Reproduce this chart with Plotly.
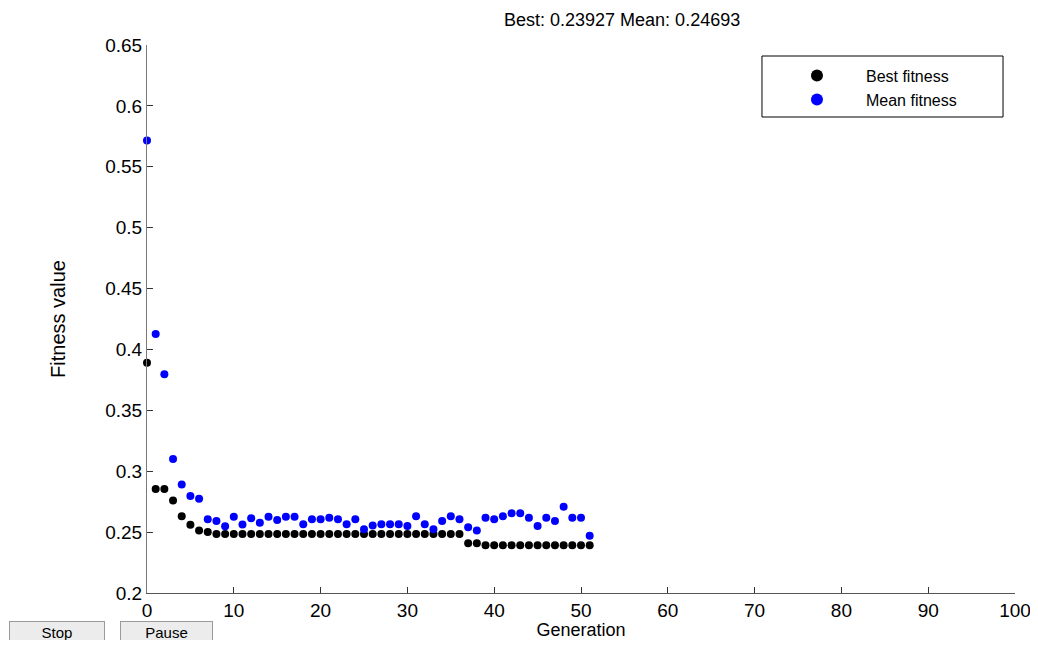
import plotly.graph_objects as go

generations = list(range(52))
best_fitness = [0.389, 0.2855, 0.2855, 0.276, 0.263, 0.256, 0.2513, 0.250,
                0.2485, 0.2485, 0.2485, 0.2485, 0.2485, 0.2485, 0.2485, 0.2485,
                0.2485, 0.2485, 0.2485, 0.2485, 0.2485, 0.2485, 0.2485, 0.2485,
                0.2485, 0.2485, 0.2485, 0.2485, 0.2485, 0.2485, 0.2485, 0.2485,
                0.2485, 0.2485, 0.2485, 0.2485, 0.2485,
                0.2409, 0.2409,
                0.23927, 0.23927, 0.23927, 0.23927, 0.23927, 0.23927, 0.23927,
                0.23927, 0.23927, 0.23927, 0.23927, 0.23927, 0.23927]
mean_fitness = [0.5715, 0.4127, 0.3796, 0.310, 0.289, 0.2797, 0.2773, 0.2606,
                0.2592, 0.2549, 0.2627, 0.2562, 0.2614, 0.2576, 0.2627, 0.2600,
                0.2627, 0.2627, 0.2565, 0.2606, 0.2606, 0.2617, 0.2606, 0.2565,
                0.2606, 0.2524, 0.2554, 0.2565, 0.2565, 0.2565, 0.2551, 0.2630,
                0.2565, 0.2524, 0.2592, 0.2630, 0.2606, 0.2540, 0.2513, 0.2617,
                0.2606, 0.2630, 0.2655, 0.2655, 0.2617, 0.2551, 0.2617, 0.2592,
                0.2709, 0.2617, 0.2617, 0.24693]
x_ticks = [0, 10, 20, 30, 40, 50, 60, 70, 80, 90, 100]
y_ticks = [0.2, 0.25, 0.3, 0.35, 0.4, 0.45, 0.5, 0.55, 0.6, 0.65]
title_text = "Best: 0.23927 Mean: 0.24693"

FONT = "Liberation Sans, Arial, Helvetica, sans-serif"

fig = go.Figure()
fig.add_trace(go.Scatter(x=generations, y=best_fitness, mode="markers", name="Best fitness",
                         marker=dict(color="black", size=8), cliponaxis=False))
fig.add_trace(go.Scatter(x=generations, y=mean_fitness, mode="markers", name="Mean fitness",
                         marker=dict(color="#0000ff", size=8), cliponaxis=False))

# page body has an 8px margin: figure sized so page is 1038x648 and
# plot area lands at 147..1015 x 45..593
fig.update_layout(
    width=1022, height=632,
    margin=dict(l=139, r=15, t=37, b=47, autoexpand=False),
    paper_bgcolor="white", plot_bgcolor="white",
    font=dict(family=FONT, size=19, color="black"),
    showlegend=True,
    legend=dict(x=0.7154, y=0.975, xanchor="left", yanchor="top",
                bgcolor="rgba(0,0,0,0)", borderwidth=0, itemwidth=88,
                font=dict(size=16), itemsizing="constant"),
    xaxis=dict(range=[0, 100], tickvals=x_ticks, showgrid=False, zeroline=False,
               showline=True, linecolor="#555555", linewidth=1,
               ticks="inside", ticklen=6, tickcolor="#333333",
               automargin=False, ticklabeloverflow="allow",
               title=dict(text="Generation", font=dict(size=18), standoff=11)),
    yaxis=dict(range=[0.2, 0.65], tickvals=y_ticks, showgrid=False, zeroline=False,
               showline=True, linecolor="#7a7a7a", linewidth=1,
               ticks="inside", ticklen=6, tickcolor="#333333",
               automargin=False, ticklabeloverflow="allow",
               title=dict(text="Fitness value", font=dict(size=20), standoff=34)),
    shapes=[
        dict(type="rect", xref="paper", yref="paper", x0=0.7085, x1=0.9862,
             y0=0.8686, y1=0.9799, line=dict(color="black", width=1),
             fillcolor="white", layer="below"),
    ],
    annotations=[
        dict(text=title_text, xref="paper", yref="paper", x=0.547, y=1.0456,
             xanchor="center", yanchor="middle", showarrow=False, font=dict(size=18)),
        dict(text="Stop", xref="paper", yref="paper", x=-0.1037, y=-0.0511,
             xanchor="center", yanchor="top", valign="top", showarrow=False,
             font=dict(size=15), width=90, height=24, bgcolor="#ececec",
             bordercolor="#9a9a9a", borderwidth=1, borderpad=2),
        dict(text="Pause", xref="paper", yref="paper", x=0.0219, y=-0.0511,
             xanchor="center", yanchor="top", valign="top", showarrow=False,
             font=dict(size=15), width=87, height=24, bgcolor="#ececec",
             bordercolor="#9a9a9a", borderwidth=1, borderpad=2),
    ],
)

fig.write_html("out.html")
